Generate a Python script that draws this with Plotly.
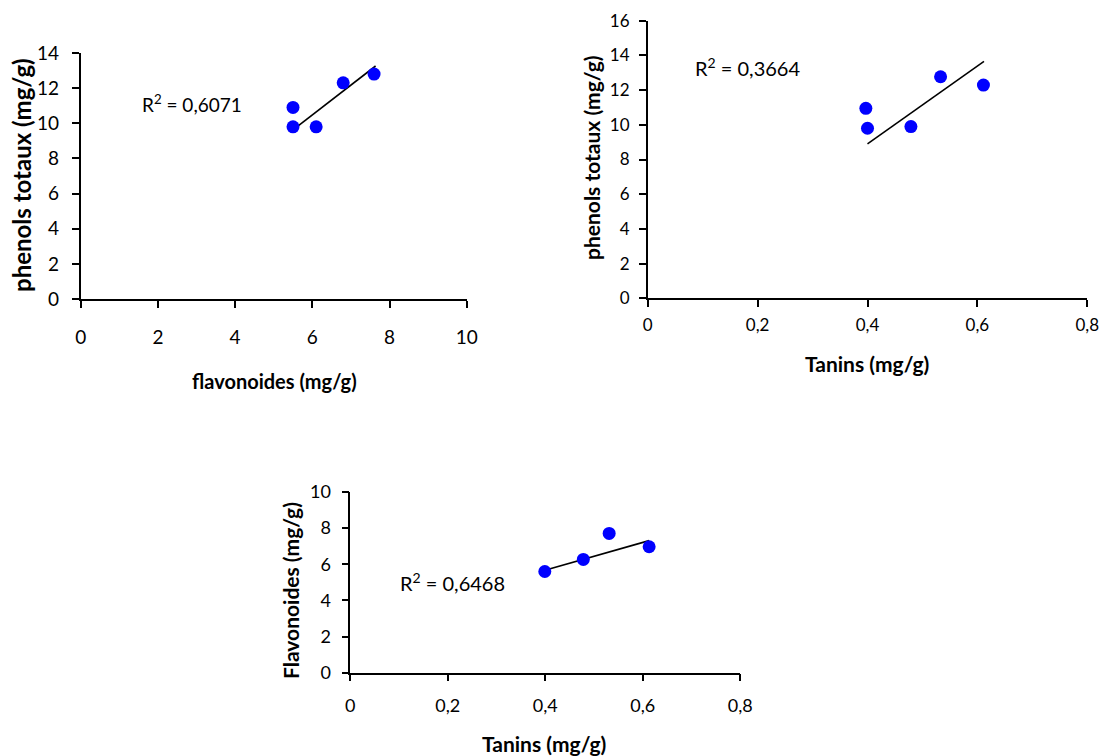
import plotly.graph_objects as go

W, H = 1105, 756
FONT = "Lato"

# Flavonoides vs phenols totaux
flav_1 = [5.5, 5.5, 6.1, 6.8, 7.6]
phen_1 = [10.9, 9.8, 9.8, 12.3, 12.8]
trend1_x = [5.5, 7.64]
trend1_y = [9.62, 13.26]
r2_1 = "0,6071"

# Tanins vs phenols totaux
tan_2 = [0.397, 0.400, 0.479, 0.533, 0.611]
phen_2 = [10.95, 9.8, 9.9, 12.77, 12.29]
trend2_x = [0.40, 0.612]
trend2_y = [8.9, 13.65]
r2_2 = "0,3664"

# Tanins vs flavonoides
tan_3 = [0.399, 0.478, 0.531, 0.613]
flav_3 = [5.6, 6.27, 7.71, 6.97]
trend3_x = [0.401, 0.613]
trend3_y = [5.68, 7.31]
r2_3 = "0,6468"

# tick values / labels
ticks_x1 = [0, 2, 4, 6, 8, 10]
ticks_y1 = [0, 2, 4, 6, 8, 10, 12, 14]
ticks_tan = [0, 0.2, 0.4, 0.6, 0.8]
ticks_tan_text = ["0", "0,2", "0,4", "0,6", "0,8"]
ticks_y2 = [0, 2, 4, 6, 8, 10, 12, 14, 16]
ticks_y3 = [0, 2, 4, 6, 8, 10]

BLUE = "#0000FF"

fig = go.Figure()

def add_panel(fig, xs, ys, tx, ty, xa, ya, msize):
    fig.add_trace(go.Scatter(x=tx, y=ty, mode="lines", xaxis=xa, yaxis=ya,
                             line=dict(color="black", width=1.6),
                             showlegend=False, hoverinfo="skip"))
    fig.add_trace(go.Scatter(x=xs, y=ys, mode="markers", xaxis=xa, yaxis=ya,
                             marker=dict(color=BLUE, size=msize, line=dict(width=0)),
                             showlegend=False))

add_panel(fig, flav_1, phen_1, trend1_x, trend1_y, "x", "y", 13)
add_panel(fig, tan_2, phen_2, trend2_x, trend2_y, "x2", "y2", 13)
add_panel(fig, tan_3, flav_3, trend3_x, trend3_y, "x3", "y3", 13)

def px_x(p):
    return p / W

def px_y(p):
    return 1 - p / H

def axis_common(size, standoff):
    return dict(showgrid=False, zeroline=False, showline=True, linecolor="black",
                linewidth=1.5, ticks="outside", ticklen=7, tickwidth=1.5,
                tickcolor="black", tickfont=dict(family=FONT, size=size, color="black"),
                ticklabelstandoff=standoff, automargin=False, fixedrange=True)

fig.update_layout(
    template="none",
    width=W, height=H,
    margin=dict(l=0, r=0, t=0, b=0, autoexpand=False),
    paper_bgcolor="white", plot_bgcolor="white",
    xaxis=dict(domain=[px_x(80.7), px_x(466.7)], range=[0, 10], anchor="y",
               tickvals=ticks_x1, ticktext=[str(v) for v in ticks_x1],
               **axis_common(19, 13)),
    yaxis=dict(domain=[px_y(299), px_y(53)], range=[0, 14], anchor="x",
               tickvals=ticks_y1, ticktext=[str(v) for v in ticks_y1],
               **axis_common(19, 9)),
    xaxis2=dict(domain=[px_x(647.7), px_x(1087.3)], range=[0, 0.8], anchor="y2",
                tickvals=ticks_tan, ticktext=ticks_tan_text,
                **axis_common(17, 4)),
    yaxis2=dict(domain=[px_y(298.3), px_y(20.7)], range=[0, 16], anchor="x2",
                tickvals=ticks_y2, ticktext=[str(v) for v in ticks_y2],
                **axis_common(17, 6)),
    xaxis3=dict(domain=[px_x(350.3), px_x(740.3)], range=[0, 0.8], anchor="y3",
                tickvals=ticks_tan, ticktext=ticks_tan_text,
                **axis_common(18, 9)),
    yaxis3=dict(domain=[px_y(672.7), px_y(492)], range=[0, 10], anchor="x3",
                tickvals=ticks_y3, ticktext=[str(v) for v in ticks_y3],
                **axis_common(18, 7)),
)

def label(text, x, y, size, bold=False, angle=0, xanchor="center"):
    fig.add_annotation(text=f"<b>{text}</b>" if bold else text,
                       x=x, y=y, xref="paper", yref="paper",
                       xanchor=xanchor, yanchor="middle", textangle=angle,
                       showarrow=False,
                       font=dict(family=FONT, size=size, color="black"))

# axis titles
label("phenols totaux (mg/g)", px_x(21), px_y(175), 24, bold=True, angle=-90)
label("flavonoides (mg/g)", px_x(274), px_y(381), 20, bold=True)
label("phenols totaux (mg/g)", px_x(592), px_y(158), 21, bold=True, angle=-90)
label("Tanins (mg/g)", px_x(867), px_y(364), 21, bold=True)
label("Flavonoides (mg/g)", px_x(290), px_y(591), 21, bold=True, angle=-90)
label("Tanins (mg/g)", px_x(544), px_y(743), 21, bold=True)

# coefficients of determination
label(f"R<sup>2</sup> = {r2_1}", px_x(140), px_y(103), 19, xanchor="left")
label(f"R<sup>2</sup> = {r2_2}", px_x(693), px_y(67), 20, xanchor="left")
label(f"R<sup>2</sup> = {r2_3}", px_x(398), px_y(582), 20, xanchor="left")

fig.write_html("out.html")
